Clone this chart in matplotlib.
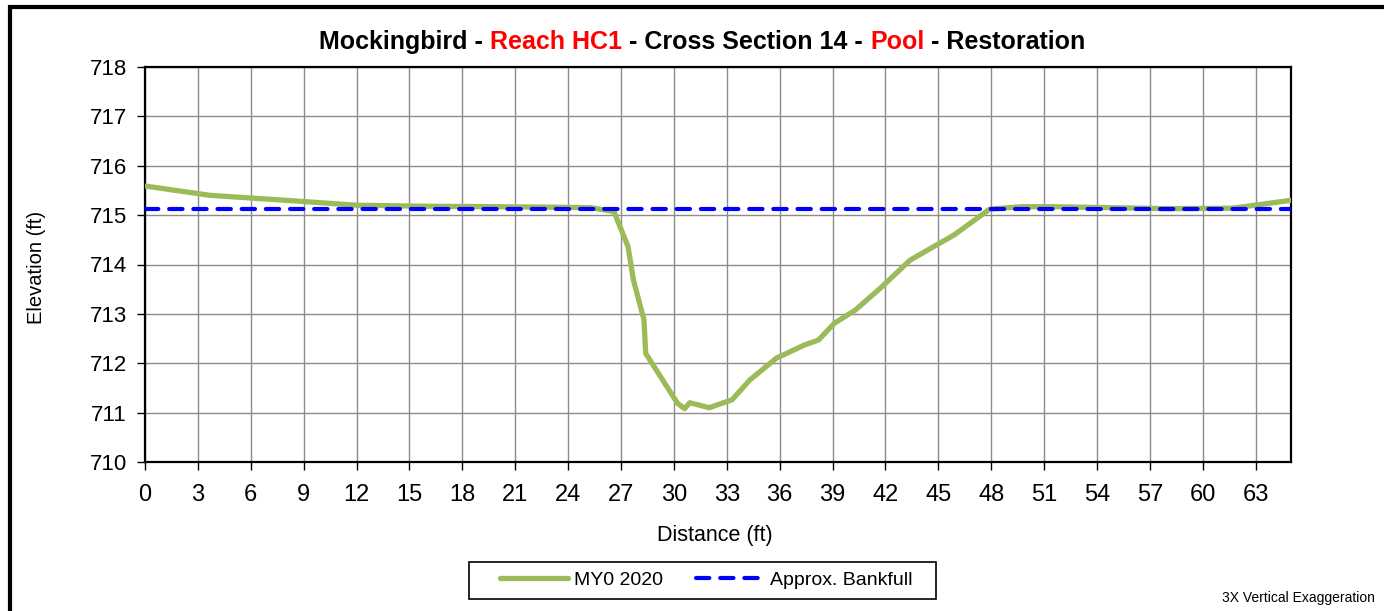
import matplotlib
matplotlib.use("Agg")
import matplotlib.pyplot as plt
from matplotlib.patches import Rectangle

plt.rcParams['font.family'] = ['Liberation Sans', 'DejaVu Sans']

# surveyed cross section (MY0 2020)
distance = [0, 3.7, 8.0, 12.0, 16.0, 20.0, 23.5, 25.3, 26.6, 27.4, 27.7, 28.3, 28.4,
            30.2, 30.6, 30.9, 32.0, 33.3, 34.3, 35.8, 37.4, 38.2, 39.1, 40.3,
            41.8, 43.4, 45.9, 47.9, 49.7, 51.5, 55.0, 58.0, 61.7, 65.0]
elevation = [715.59, 715.40, 715.30, 715.20, 715.18, 715.17, 715.16, 715.15, 715.07, 714.36, 713.69, 712.88, 712.20,
             711.19, 711.08, 711.20, 711.10, 711.26, 711.66, 712.10, 712.37, 712.47, 712.81, 713.08,
             713.55, 714.09, 714.60, 715.12, 715.17, 715.17, 715.15, 715.13, 715.14, 715.30]

bankfull_x = [0, 65]
bankfull_y = [715.12, 715.12]

x_ticks = list(range(0, 64, 3))
y_ticks = list(range(710, 719))

fig = plt.figure(figsize=(13.84, 6.11), dpi=100)
ax = fig.add_axes([145/1384, 1-462/611, (1291-145)/1384, (462-67)/611])

ax.plot(distance, elevation, color='#9BBB59', lw=3.8, solid_joinstyle='round',
        solid_capstyle='round', label='MY0 2020', zorder=3)
ax.plot(bankfull_x, bankfull_y, color='#0000FF', lw=3, dashes=(3.2, 2.6),
        dash_capstyle='round', label='Approx. Bankfull', zorder=4)

ax.set_xlim(0, 65)
ax.set_ylim(710, 718)
ax.set_xticks(x_ticks)
ax.set_yticks(y_ticks)
ax.grid(True, color='#8c8c8c', lw=1)
ax.set_axisbelow(True)
ax.tick_params(axis='both', direction='out', length=6, width=1)
ax.tick_params(axis='y', labelsize=16, pad=7)
ax.tick_params(axis='x', labelsize=17, pad=10)
for s in ax.spines.values():
    s.set_linewidth(1.6)

fig.text(715/1384, 1-536/611, 'Distance (ft)', fontsize=15.5, ha='center', va='center')
fig.text(37/1384, 1-267/611, 'Elevation (ft)', rotation=90, fontsize=14.5,
         ha='center', va='center')

# title with coloured pieces
pieces = [('Mockingbird - ', 'black'), ('Reach HC1', 'red'),
          (' - Cross Section 14 - ', 'black'), ('Pool', 'red'),
          (' - Restoration', 'black')]
texts = []
for txt, col in pieces:
    t = fig.text(0.5, 1-42/611, txt, color=col, fontsize=18, fontweight='bold',
                 ha='left', va='center')
    texts.append(t)
fig.canvas.draw()
r = fig.canvas.get_renderer()
widths = [t.get_window_extent(r).width for t in texts]
start = 702.5 - sum(widths)/2
for t, w in zip(texts, widths):
    t.set_x(start/1384)
    start += w

leg = fig.legend(loc='center', bbox_to_anchor=(706/1384, 1-580/611), ncol=2,
                 fontsize=14, frameon=False, handlelength=3.5, handletextpad=0.3,
                 columnspacing=1.7)

# legend box
fig.patches.append(Rectangle((469/1384, 1-599/611), (936-469)/1384, 37/611,
                             transform=fig.transFigure, fill=False,
                             edgecolor='black', lw=1.2))

fig.text(1375/1384, 1-598/611, '3X Vertical Exaggeration', fontsize=10,
         ha='right', va='center')

# outer chart border
fig.patches.append(Rectangle((10/1384, -0.05), 1.2, 1-7/611+0.05,
                             transform=fig.transFigure, fill=False,
                             edgecolor='black', lw=3))

fig.savefig('out.png', dpi=100)
